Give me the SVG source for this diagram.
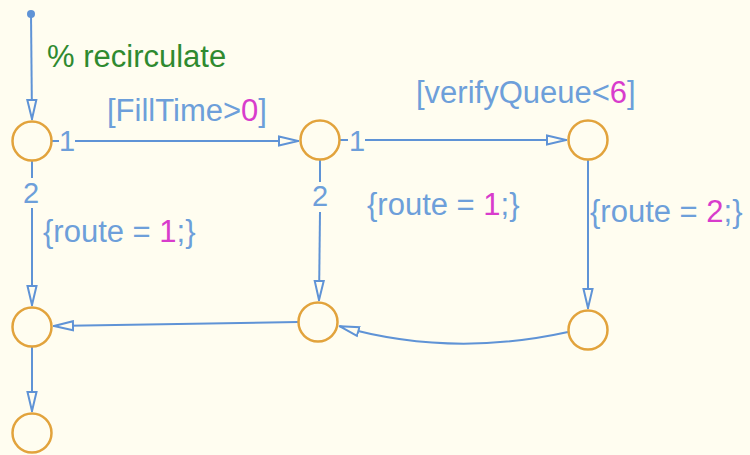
<svg xmlns="http://www.w3.org/2000/svg" width="750" height="455" viewBox="0 0 750 455">
  <defs>
    <style>
      .node { fill: none; stroke: #e2a33c; stroke-width: 2.5; }
      .conn { fill: none; stroke: #5f93d6; stroke-width: 2; }
      .lbl { font-family: "Liberation Sans", Arial, sans-serif; font-size: 31px; fill: #6d9fda; }
      .num { font-family: "Liberation Sans", Arial, sans-serif; font-size: 29px; fill: #6d9fda; }
      .mag { fill: #d83ccc; }
      .cmt { font-family: "Liberation Sans", Arial, sans-serif; font-size: 31px; fill: #2f8a2f; }
    </style>
    <marker id="arrow" viewBox="0 0 22 12" refX="21" refY="6" markerWidth="22" markerHeight="12" markerUnits="userSpaceOnUse" orient="auto">
      <path d="M1,1.5 L20,6 L1,10.5 Z" fill="#fffdf0" stroke="#5f93d6" stroke-width="2"/>
    </marker>
  </defs>
  <rect width="750" height="455" fill="#fffdf0"/>

  <g id="connectors">
    <circle cx="31" cy="14" r="4" fill="#5f93d6"/>
    <path class="conn" d="M31,14 L32,120" marker-end="url(#arrow)"/>
    <path class="conn" d="M52,141 L59,141"/>
    <path class="conn" d="M75,141 L299,141" marker-end="url(#arrow)"/>
    <path class="conn" d="M32,161 L32,178"/>
    <path class="conn" d="M32,208 L32,306" marker-end="url(#arrow)"/>
    <path class="conn" d="M340,140 L348,140"/>
    <path class="conn" d="M365,140 L567,140" marker-end="url(#arrow)"/>
    <path class="conn" d="M320,160 L320,182"/>
    <path class="conn" d="M320,212 L319,301" marker-end="url(#arrow)"/>
    <path class="conn" d="M588,160 L588,309" marker-end="url(#arrow)"/>
    <path class="conn" d="M568,332 Q450,358 339,326" marker-end="url(#arrow)"/>
    <path class="conn" d="M298,322 L53,326" marker-end="url(#arrow)"/>
    <path class="conn" d="M32,347 L32,412" marker-end="url(#arrow)"/>
  </g>

  <g id="labels">
    <text class="cmt" x="47" y="67">% recirculate</text>
    <text class="lbl" x="107" y="121">[FillTime&gt;<tspan class="mag">0</tspan>]</text>
    <text class="num" x="59" y="151">1</text>
    <text class="num" x="23" y="203">2</text>
    <text class="lbl" x="43" y="242">{route = <tspan class="mag">1</tspan>;}</text>
    <text class="lbl" x="416" y="103">[verifyQueue&lt;<tspan class="mag">6</tspan>]</text>
    <text class="num" x="349" y="151">1</text>
    <text class="num" x="312" y="206">2</text>
    <text class="lbl" x="367" y="215">{route = <tspan class="mag">1</tspan>;}</text>
    <text class="lbl" x="590" y="222">{route = <tspan class="mag">2</tspan>;}</text>
  </g>

  <g id="nodeA"><circle class="node" cx="32" cy="141" r="19.5"/></g>
  <g id="nodeB"><circle class="node" cx="320" cy="140" r="19.5"/></g>
  <g id="nodeC"><circle class="node" cx="588" cy="140" r="19.5"/></g>
  <g id="nodeD"><circle class="node" cx="32" cy="327" r="19.5"/></g>
  <g id="nodeE"><circle class="node" cx="318" cy="322" r="19.5"/></g>
  <g id="nodeF"><circle class="node" cx="588" cy="330" r="19.5"/></g>
  <g id="nodeG"><circle class="node" cx="32" cy="433" r="19.5"/></g>
</svg>
